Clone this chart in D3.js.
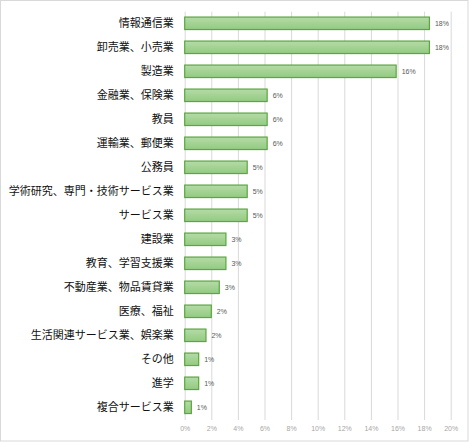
<!DOCTYPE html>
<html>
<head>
<meta charset="utf-8">
<script src="https://cdn.jsdelivr.net/npm/d3@7"></script>
<style>
  body { margin: 0; background: #fff; }
  svg { display: block; font-family: "Noto Sans CJK JP", sans-serif; }
</style>
</head>
<body>
<svg class="chart"></svg>
<script>
// categories top to bottom
const categories = [
    "情報通信業", "卸売業、小売業", "製造業", "金融業、保険業", "教員",
    "運輸業、郵便業", "公務員", "学術研究、専門・技術サービス業", "サービス業",
    "建設業", "教育、学習支援業", "不動産業、物品賃貸業", "医療、福祉",
    "生活関連サービス業、娯楽業", "その他", "進学", "複合サービス業"
]
// percent values
const values = [18.4, 18.4, 15.9, 6.2, 6.2, 6.2, 4.7, 4.7, 4.7, 3.1, 3.1, 2.6, 2.0, 1.6, 1.05, 1.05, 0.5]
const ticks = [0, 2, 4, 6, 8, 10, 12, 14, 16, 18, 20]

const svg = d3.select("svg.chart")
    .attr("width", 469)
    .attr("height", 442)

// outer frame
svg.append("rect")
    .attr("x", 0.5).attr("y", 0.5)
    .attr("width", 467.5).attr("height", 440.5)
    .attr("fill", "#fff")
    .attr("stroke", "#d9d9d9")

const defs = svg.append("defs")
const grad = defs.append("linearGradient")
    .attr("id", "barFill")
    .attr("x1", 0).attr("y1", 0).attr("x2", 0).attr("y2", 1)
grad.append("stop").attr("offset", "0%").attr("stop-color", "#b5dba7")
grad.append("stop").attr("offset", "100%").attr("stop-color", "#92ca82")

const scaleX = d3.scaleLinear()
    .domain([0, 20])
    .range([184.7, 450.7])

const scaleY = d3.scaleBand()
    .domain(categories)
    .range([11.3, 419.3])
    .paddingInner(0.48)
    .paddingOuter(0.24)

// vertical gridlines
const axisX = d3.axisBottom(scaleX)
    .tickValues(ticks)
    .tickSizeInner(-(420 - 11.7))
    .tickSizeOuter(0)
    .tickPadding(6)
    .tickFormat(d => d + "%")

const axisXGroup = svg.append("g")
    .attr("transform", "translate(0, 420)")
    .call(axisX)
axisXGroup.select(".domain").remove()
axisXGroup.selectAll(".tick line").attr("stroke", "#d9d9d9")
axisXGroup.selectAll(".tick text")
    .attr("fill", "#a6a6a6")
    .style("font-size", "7px")
    .style("font-family", "'Liberation Sans', sans-serif")

// category labels
const axisY = d3.axisLeft(scaleY)
    .tickSize(0)
    .tickPadding(11)
const axisYGroup = svg.append("g")
    .attr("transform", "translate(184.7, 0)")
    .call(axisY)
axisYGroup.select(".domain").remove()
axisYGroup.selectAll(".tick text")
    .attr("fill", "#111")
    .style("font-size", "11px")
    .style("font-family", "'Noto Sans CJK JP', sans-serif")

const rows = svg.selectAll("g.row")
    .data(categories)
    .enter().append("g")
    .attr("class", "row")

rows.append("rect")
    .attr("x", scaleX(0))
    .attr("y", d => scaleY(d))
    .attr("width", (d, i) => scaleX(values[i]) - scaleX(0))
    .attr("height", scaleY.bandwidth())
    .attr("fill", "url(#barFill)")
    .attr("stroke", "#5aa83c")
    .attr("stroke-width", 1.2)

const pct = d3.format(".0%")
rows.append("text")
    .attr("x", (d, i) => scaleX(values[i]) + 5.5)
    .attr("y", d => scaleY(d) + scaleY.bandwidth() / 2)
    .attr("dy", "0.35em")
    .attr("fill", "#595959")
    .style("font-size", "7px")
    .style("font-family", "'Liberation Sans', sans-serif")
    .text((d, i) => pct(values[i] / 100))
</script>
</body>
</html>
